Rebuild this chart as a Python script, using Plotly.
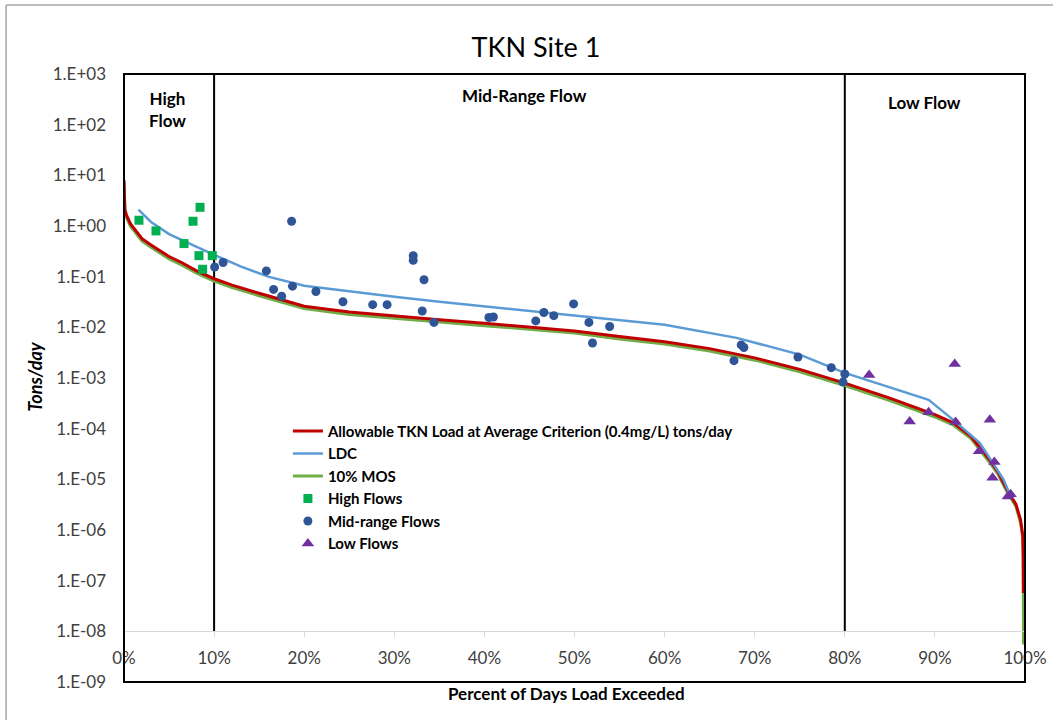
import plotly.graph_objects as go

# ---------------- data ----------------
# Allowable load curve (percent exceeded, tons/day)
allow_pct = [0, 0.1, 0.3, 0.7, 1.0, 2.0, 3.0, 4.0, 5.0, 6.5, 8.0, 10, 12, 15, 20, 25, 30, 35,
             40, 45, 50, 55, 60, 65, 70, 75, 80, 85, 88, 90, 92, 94, 96, 97, 98, 99, 99.5,
             99.75, 99.8, 99.82]
allow_val = [8.1, 2.1, 1.6, 1.12, 0.95, 0.56, 0.42, 0.32, 0.25, 0.186, 0.132, 0.091, 0.068,
             0.047, 0.026, 0.020, 0.0166, 0.0141, 0.0120, 0.0102, 0.0085, 0.0066, 0.0052,
             0.0038, 0.0025, 0.00148, 0.00079, 0.00040, 0.00026, 0.00019, 0.000132, 0.000071,
             0.000025, 0.000014, 0.0000063, 0.0000032, 0.0000016, 0.00000079, 0.00000032,
             0.000000057]

# 10% margin of safety curve
mos_pct = [0, 0.1, 0.3, 0.7, 1.0, 2.0, 3.0, 4.0, 5.0, 6.5, 8.0, 10, 12, 15, 20, 25, 30, 35,
           40, 45, 50, 55, 60, 65, 70, 75, 80, 85, 88, 90, 92, 94, 96, 97, 98, 99, 99.5,
           99.75, 99.8, 99.84]
mos_val = [7.3, 1.9, 1.44, 1.0, 0.86, 0.50, 0.38, 0.29, 0.225, 0.167, 0.119, 0.082, 0.061,
           0.042, 0.0234, 0.018, 0.0149, 0.0127, 0.0108, 0.0092, 0.0077, 0.0059, 0.0047,
           0.0034, 0.00225, 0.00133, 0.00071, 0.00036, 0.00023, 0.00017, 0.000119, 0.000064,
           0.0000225, 0.0000126, 0.0000057, 0.0000029, 0.0000014, 0.00000071, 0.00000029,
           0.0000000055]

# Load duration curve
ldc_pct = [1.6, 3, 5, 7, 10, 13, 16, 20, 25, 30, 35, 40, 45, 50, 55, 60, 68, 75, 80, 85,
           89.3, 92, 95, 97.6, 98.2]
ldc_val = [2.1, 1.2, 0.69, 0.47, 0.27, 0.158, 0.10, 0.066, 0.051, 0.040, 0.032, 0.026,
           0.021, 0.0174, 0.0141, 0.0112, 0.0062, 0.0029, 0.00126, 0.00066, 0.00037,
           0.000151, 0.000052, 0.0000100, 0.0000056]

# Observed loads
high_pct = [1.66, 3.55, 6.66, 7.66, 8.44, 8.32, 8.73, 9.8]
high_val = [1.3, 0.8, 0.45, 1.24, 2.34, 0.26, 0.14, 0.26]

mid_pct = [10.06, 11.0, 15.8, 18.6, 16.6, 17.5, 18.7, 21.3, 24.3, 27.6, 29.2, 32.1, 32.1,
           33.3, 33.1, 34.4, 40.5, 41.0, 45.7, 46.6, 47.7, 49.9, 51.6, 52.0, 53.9, 67.7,
           68.5, 68.8, 74.8, 78.5, 80.0, 79.8]
mid_val = [0.155, 0.19, 0.13, 1.24, 0.056, 0.041, 0.065, 0.051, 0.032, 0.028, 0.028, 0.26,
           0.21, 0.087, 0.021, 0.0125, 0.0156, 0.016, 0.0134, 0.0196, 0.017, 0.029, 0.0125,
           0.0049, 0.0104, 0.0022, 0.0045, 0.0040, 0.0026, 0.0016, 0.0012, 0.00083]

low_pct = [82.7, 92.2, 87.2, 89.3, 92.3, 96.1, 94.9, 96.6, 96.4, 98.1, 98.4]
low_val = [0.00114, 0.0019, 0.000138, 0.00021, 0.000135, 0.00015, 0.000036, 0.000022,
           0.0000107, 0.0000046, 0.0000051]

# Flow regime boundaries and labels
boundaries = [10, 80]
x_ticks = [0, 10, 20, 30, 40, 50, 60, 70, 80, 90, 100]
y_exps = list(range(-9, 4))
y_ticktext = ["1.E%s%02d" % ("+" if e >= 0 else "-", abs(e)) for e in y_exps]

FONT = "Lato"
W, H = 1053, 720
L, R, T, B = 124, 1025.5, 74, 682.5


def px(xpix):
    return (xpix - L) / (R - L)


def py(ypix):
    return (B - ypix) / (B - T)


fig = go.Figure()

# boundary lines
for b in boundaries:
    fig.add_trace(go.Scatter(x=[b, b], y=[1e-8, 1e3], mode="lines",
                             line=dict(color="black", width=2), showlegend=False,
                             hoverinfo="skip"))

fig.add_trace(go.Scatter(x=mos_pct, y=mos_val, mode="lines", name="10% MOS",
                         line=dict(color="#70AD47", width=3), legendrank=3))
fig.add_trace(go.Scatter(x=allow_pct, y=allow_val, mode="lines",
                         name="Allowable TKN Load at Average Criterion (0.4mg/L) tons/day",
                         line=dict(color="#C00000", width=3), legendrank=1))
fig.add_trace(go.Scatter(x=ldc_pct, y=ldc_val, mode="lines", name="LDC",
                         line=dict(color="#5B9BD5", width=2.5), legendrank=2))
fig.add_trace(go.Scatter(x=high_pct, y=high_val, mode="markers", name="High Flows",
                         marker=dict(symbol="square", color="#00B050", size=9),
                         legendrank=4))
fig.add_trace(go.Scatter(x=mid_pct, y=mid_val, mode="markers", name="Mid-range Flows",
                         marker=dict(symbol="circle", color="#2F5597", size=9),
                         legendrank=5))
fig.add_trace(go.Scatter(x=low_pct, y=low_val, mode="markers", name="Low Flows",
                         marker=dict(symbol="triangle-up", color="#7030A0", size=11),
                         legendrank=6))

bold = dict(family=FONT, size=17, color="#000000", weight="bold")

fig.update_layout(
    width=W, height=H,
    margin=dict(l=L, r=W - R, t=T, b=H - B, autoexpand=False),
    paper_bgcolor="white", plot_bgcolor="white",
    font=dict(family=FONT, color="#595959"),
    title=dict(text="TKN Site 1", x=536 / W, xref="container", xanchor="center",
               y=1 - 48 / H, yref="container", yanchor="middle",
               font=dict(family=FONT, size=27, color="#000000")),
    showlegend=True,
    legend=dict(x=px(288), y=py(415), xanchor="left", yanchor="top",
                bgcolor="rgba(0,0,0,0)", tracegroupgap=0,
                font=dict(family=FONT, size=15, color="#000000", weight="bold")),
    xaxis=dict(range=[0, 100], tickvals=x_ticks, ticktext=[f"{v}%" for v in x_ticks],
               anchor="free", position=1 / 12, showgrid=False, zeroline=False,
               automargin=False,
               showline=True, linecolor="#D9D9D9", linewidth=1,
               ticks="outside", ticklen=5, tickcolor="#D9D9D9", ticklabelstandoff=6,
               tickfont=dict(family=FONT, size=17, color="#404040")),
    yaxis=dict(type="log", range=[-9, 3], tickvals=[10.0 ** e for e in y_exps],
               ticktext=y_ticktext, showgrid=False, zeroline=False, showline=False,
               automargin=False,
               ticks="", ticklabelstandoff=17,
               tickfont=dict(family=FONT, size=17, color="#404040")),
    shapes=[
        dict(type="rect", xref="paper", yref="paper", x0=0, x1=1, y0=0, y1=1,
             line=dict(color="black", width=2), layer="above"),
        dict(type="line", xref="paper", yref="paper", x0=px(6), x1=px(6),
             y0=py(5), y1=py(760), line=dict(color="#A6A6A6", width=1.5)),
        dict(type="line", xref="paper", yref="paper", x0=px(6), x1=px(1100),
             y0=py(5), y1=py(5), line=dict(color="#A6A6A6", width=1.5)),
    ],
    annotations=[
        dict(text="High<br>Flow", x=px(168), y=py(110), xref="paper", yref="paper",
             xanchor="center", yanchor="middle", showarrow=False, font=bold),
        dict(text="Mid-Range Flow", x=px(525), y=py(96), xref="paper", yref="paper",
             xanchor="center", yanchor="middle", showarrow=False, font=bold),
        dict(text="Low Flow", x=px(925), y=py(103), xref="paper", yref="paper",
             xanchor="center", yanchor="middle", showarrow=False, font=bold),
        dict(text="Percent of Days Load Exceeded", x=px(567), y=py(694), xref="paper",
             yref="paper", xanchor="center", yanchor="middle", showarrow=False, font=bold),
        dict(text="<b><i>Tons/day</i></b>", x=px(35), y=py(377), xref="paper", yref="paper",
             xanchor="center", yanchor="middle", showarrow=False, textangle=-90,
             font=dict(family=FONT, size=18, color="#000000")),
    ],
)

fig.write_html("out.html")
